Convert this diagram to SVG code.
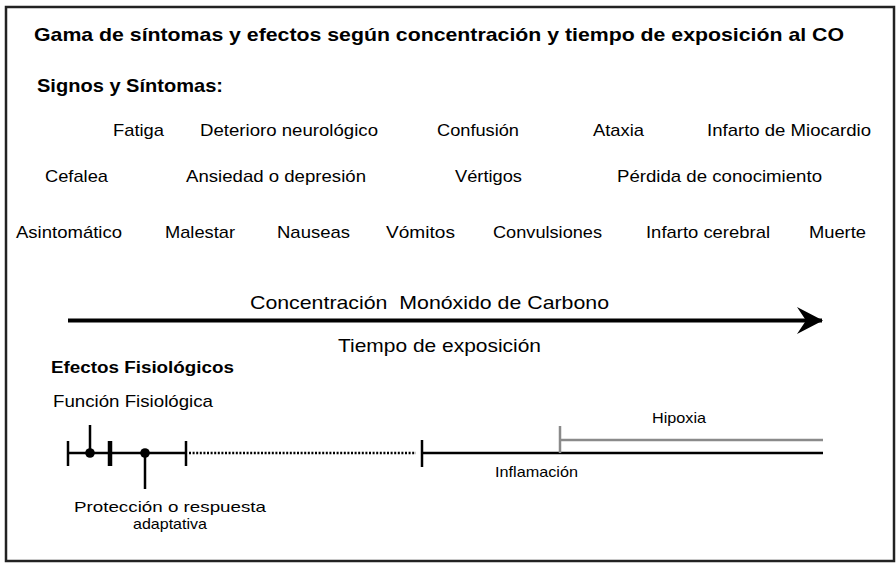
<svg xmlns="http://www.w3.org/2000/svg" width="896" height="563" viewBox="0 0 896 563">
<style>
text{font-family:"Liberation Sans",Arial,Helvetica,sans-serif;fill:#000}
.b{font-weight:bold}
.s{font-size:17px}
.m{font-size:15px}
.tk{stroke:#000;stroke-width:2.5;fill:none}
</style>
<defs>
<marker id="ah" viewBox="0 0 26 27" refX="25" refY="13.5" markerWidth="26" markerHeight="27" markerUnits="userSpaceOnUse" orient="auto">
<path d="M0,0 L26,13.5 L0,27 L9,13.5 Z" fill="#000"/>
</marker>
</defs>
<rect x="0" y="0" width="896" height="563" fill="#fff"/>
<rect x="6" y="7" width="888" height="554" fill="#fff" stroke="#222" stroke-width="2.5"/>

<g id="title">
<text class="b" x="34" y="41" font-size="18.5" textLength="810" lengthAdjust="spacingAndGlyphs">Gama de síntomas y efectos según concentración y tiempo de exposición al CO</text>
</g>
<g id="signos">
<text class="b" x="37" y="92" font-size="18.5" textLength="186" lengthAdjust="spacingAndGlyphs">Signos y Síntomas:</text>
</g>

<g id="row1">
<text class="s" x="113" y="136" textLength="51" lengthAdjust="spacingAndGlyphs">Fatiga</text>
<text class="s" x="200" y="136" textLength="178" lengthAdjust="spacingAndGlyphs">Deterioro neurológico</text>
<text class="s" x="437" y="136" textLength="82" lengthAdjust="spacingAndGlyphs">Confusión</text>
<text class="s" x="593" y="136" textLength="51" lengthAdjust="spacingAndGlyphs">Ataxia</text>
<text class="s" x="707" y="136" textLength="164" lengthAdjust="spacingAndGlyphs">Infarto de Miocardio</text>
</g>
<g id="row2">
<text class="s" x="45" y="182" textLength="63" lengthAdjust="spacingAndGlyphs">Cefalea</text>
<text class="s" x="186" y="182" textLength="180" lengthAdjust="spacingAndGlyphs">Ansiedad o depresión</text>
<text class="s" x="455" y="182" textLength="67" lengthAdjust="spacingAndGlyphs">Vértigos</text>
<text class="s" x="617" y="182" textLength="205" lengthAdjust="spacingAndGlyphs">Pérdida de conocimiento</text>
</g>
<g id="row3">
<text class="s" x="16" y="238" textLength="106" lengthAdjust="spacingAndGlyphs">Asintomático</text>
<text class="s" x="165" y="238" textLength="70" lengthAdjust="spacingAndGlyphs">Malestar</text>
<text class="s" x="277" y="238" textLength="73" lengthAdjust="spacingAndGlyphs">Nauseas</text>
<text class="s" x="386" y="238" textLength="69" lengthAdjust="spacingAndGlyphs">Vómitos</text>
<text class="s" x="493" y="238" textLength="109" lengthAdjust="spacingAndGlyphs">Convulsiones</text>
<text class="s" x="646" y="238" textLength="124" lengthAdjust="spacingAndGlyphs">Infarto cerebral</text>
<text class="s" x="809" y="238" textLength="57" lengthAdjust="spacingAndGlyphs">Muerte</text>
</g>

<g id="axis">
<text x="250" y="309" font-size="19" textLength="359" lengthAdjust="spacingAndGlyphs" xml:space="preserve">Concentración  Monóxido de Carbono</text>
<text x="338" y="352" font-size="19" textLength="203" lengthAdjust="spacingAndGlyphs">Tiempo de exposición</text>
</g>

<g id="connectors">
<line x1="68" y1="320.5" x2="822" y2="320.5" stroke="#000" stroke-width="4" marker-end="url(#ah)"/>
</g>

<g id="effects">
<text class="b" x="51" y="373" font-size="16" textLength="183" lengthAdjust="spacingAndGlyphs">Efectos Fisiológicos</text>
<text x="53" y="407" font-size="17" textLength="160" lengthAdjust="spacingAndGlyphs">Función Fisiológica</text>
</g>

<g id="timeline">
<line class="tk" x1="68" y1="453" x2="186" y2="453"/>
<line class="tk" x1="68" y1="441" x2="68" y2="466"/>
<line class="tk" x1="90" y1="425" x2="90" y2="453"/>
<circle cx="90" cy="453" r="4.8" fill="#000"/>
<line x1="110" y1="441" x2="110" y2="466" stroke="#000" stroke-width="4.5"/>
<circle cx="145" cy="453" r="4.8" fill="#000"/>
<line class="tk" x1="145" y1="453" x2="145" y2="489"/>
<line class="tk" x1="186" y1="441" x2="186" y2="466"/>
<line x1="189" y1="453" x2="416" y2="453" stroke="#000" stroke-width="2.5" stroke-dasharray="2,1.6"/>
<line class="tk" x1="422" y1="440" x2="422" y2="467"/>
<line class="tk" x1="422" y1="453" x2="823" y2="453"/>
<line x1="560" y1="426" x2="560" y2="453" stroke="#8a8a8a" stroke-width="2.5"/>
<line x1="560" y1="440" x2="823" y2="440" stroke="#8a8a8a" stroke-width="2.5"/>
</g>

<g id="hipoxia"><text class="m" x="652" y="423" textLength="54" lengthAdjust="spacingAndGlyphs">Hipoxia</text></g>
<g id="inflamacion"><text class="m" x="495" y="477" textLength="83" lengthAdjust="spacingAndGlyphs">Inflamación</text></g>
<g id="proteccion">
<text class="m" x="74" y="512" textLength="192" lengthAdjust="spacingAndGlyphs">Protección o respuesta</text>
<text class="m" x="133" y="529" textLength="74" lengthAdjust="spacingAndGlyphs">adaptativa</text>
</g>
</svg>
